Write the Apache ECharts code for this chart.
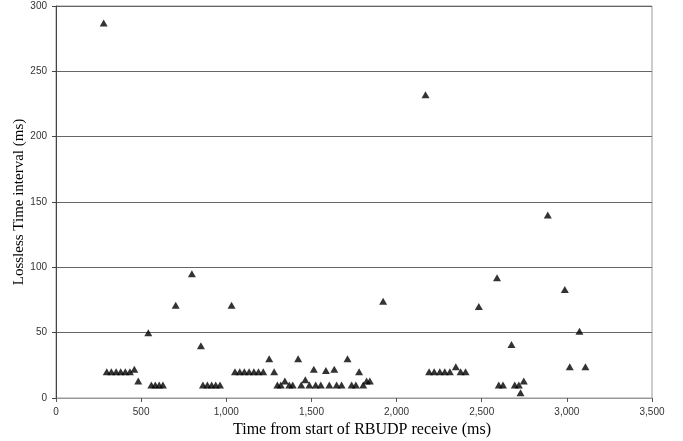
<!DOCTYPE html>
<html><head><meta charset="utf-8">
<script src="https://cdn.jsdelivr.net/npm/echarts@6/dist/echarts.min.js"></script>
<style>html,body{margin:0;padding:0;background:#fff}#c{width:683px;height:441px}</style>
</head><body><div id="c"></div>
<script>
const xTimes = [280,298,325,353,380,407,434,460,483,542,560,583,606,628,703,798,851,863,889,914,938,963,1031,
 1051,1079,1106,1134,1162,1189,1217,1252,1281,1300,1320,1344,1370,1390,1422,1440,1464,1488,1514,1525,1555,1585,1605,1634,1648,1677,1712,1736,1761,1780,1804,1824,1843,1921,
 2170,2191,2221,2254,2283,2313,2348,2376,2405,2483,2590,2600,2625,2675,2694,2718,2728,2747,2888,2988,3017,3074,3109];
const yIntervals = [287,20,20,20,20,20,20,22,13,50,10,10,10,10,71,95,40,10,10,10,10,10,71,
 20,20,20,20,20,20,20,30,20,10,10,13,10,10,30,10,14,10,22,10,10,21,10,22,10,10,30,10,10,20,10,13,13,74,
 232,20,20,20,20,20,24,20,20,70,92,10,10,41,10,10,4,13,140,83,24,51,24];
const xTicks = [0,500,1000,1500,2000,2500,3000,3500];
const yTicks = [0,50,100,150,200,250,300];
const data = xTimes.map((x,i)=>[x,yIntervals[i]]);
const chart = echarts.init(document.getElementById('c'));
chart.setOption({
  animation:false,
  backgroundColor:'#fff',
  grid:{left:56,top:6,right:31,bottom:43,show:true,borderColor:'#999',borderWidth:1,
    containLabel:false,outerBoundsMode:'none'},
  xAxis:{type:'value',min:0,max:3500,interval:500,
    name:'Time from start of RBUDP receive (ms)',nameLocation:'middle',nameGap:24,nameMoveOverlap:false,
    nameTextStyle:{fontFamily:'Liberation Serif',fontSize:16,color:'#000',padding:[0,0,0,16]},
    axisLine:{lineStyle:{color:'#999'}},
    axisTick:{show:true,length:4,lineStyle:{color:'#555'}},
    axisLabel:{fontFamily:'Liberation Sans',fontSize:10,color:'#333',margin:9,
      formatter:v=>v.toLocaleString('en-US')},
    splitLine:{show:false}},
  yAxis:{type:'value',min:0,max:300,interval:50,
    name:'Lossless Time interval (ms)',nameLocation:'middle',nameGap:29,nameMoveOverlap:false,
    nameTextStyle:{fontFamily:'Liberation Serif',fontSize:15,color:'#000'},
    axisLine:{show:true,lineStyle:{color:'#444'}},
    axisTick:{show:true,length:4,lineStyle:{color:'#444'}},
    axisLabel:{fontFamily:'Liberation Sans',fontSize:10,color:'#333',margin:9},
    splitLine:{show:true,lineStyle:{color:'#666',width:1}}},
  series:[{type:'scatter',symbol:'triangle',symbolSize:[8,7],
    itemStyle:{color:'#000'},data:data}]
});
</script></body></html>
